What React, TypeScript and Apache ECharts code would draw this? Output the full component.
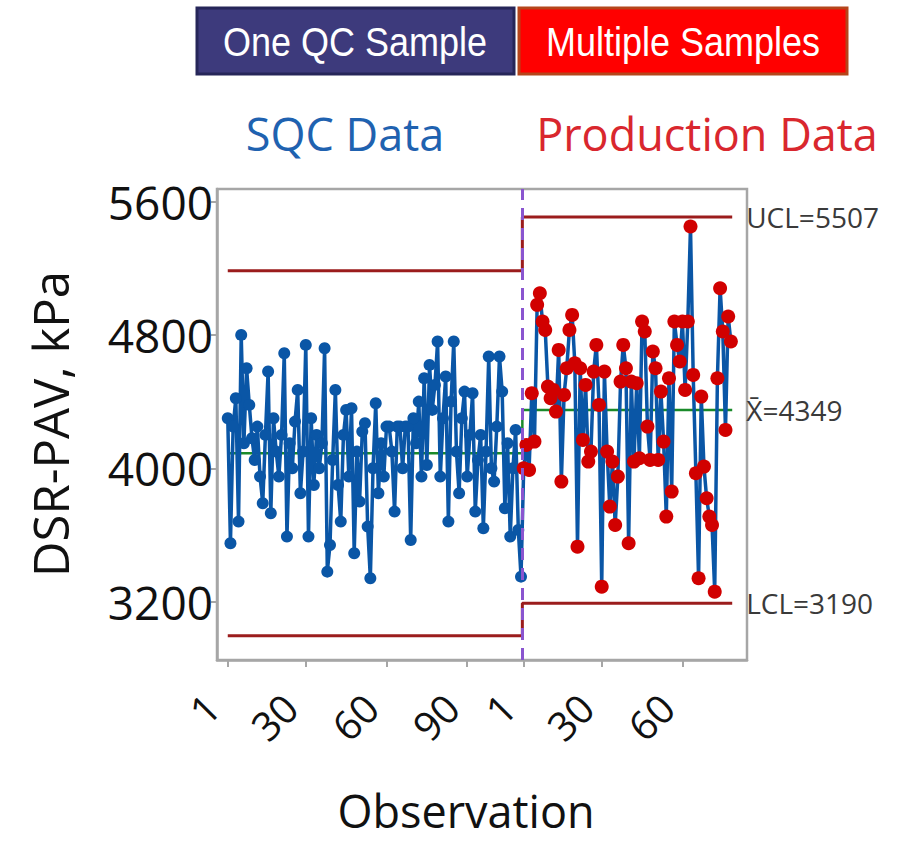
import React, { useEffect, useRef } from "react";
import * as echarts from "echarts";

// ---- data ----
const sqcValues = [
  4300, 3550, 4250, 4420, 3680, 4800, 4150, 4600, 4380, 4180,
  4050, 4250, 3950, 3790, 4200, 4580, 3730, 4300, 4100, 3950,
  4200, 4690, 3590, 4150, 4000, 4280, 4470, 3850, 4100, 4740,
  3590, 4300, 3900, 4200, 4000, 4150, 4720, 3380, 3540, 4050,
  4470, 3900, 3680, 4200, 4350, 3950, 4360, 3490, 4100, 3800,
  4220, 4270, 3650, 3340, 4000, 4390, 3850, 4150, 3950, 4250,
  4250, 4100, 3740, 4250, 4250, 4000, 4250, 4250, 3570, 4300,
  4150, 4400, 3950, 4540, 4020, 4620, 4350, 4500, 4760, 3950,
  4300, 4550, 3680, 4400, 4760, 4100, 3850, 4300, 4460, 3950,
  4200, 4450, 3740, 4050, 4200, 3640, 4100, 4670, 4000, 3920,
  4250, 4670, 4460, 3760, 4150, 3590, 4000, 4230, 3630, 3350,
];

const prodValues = [
  4000, 4140, 3990, 4450, 4160, 4980, 5050, 4880, 4830, 4490,
  4420, 4470, 4340, 4710, 3920, 4440, 4600, 4830, 4920, 4630,
  3530, 4600, 4170, 4500, 4040, 4100, 4580, 4740, 4380, 3290,
  4580, 4100, 3770, 4040, 3660, 3950, 4520, 4740, 4600, 3550,
  4520, 4040, 4510, 4060, 4880, 4820, 4250, 4050, 4700, 4600,
  4050, 4460, 4160, 3710, 4540, 3860, 4880, 4740, 4640, 4880,
  4470, 4880, 5450, 4560, 3970, 3340, 4430, 4010, 3820, 3710,
  3660, 3260, 4540, 5080, 4820, 4230, 4910, 4760,
];

const stage1Limits = [5185, 4090, 2995]; // UCL, mean, LCL
const stage2Limits = [5507, 4349, 3190];
const limitNames = ["UCL", "X\u0304", "LCL"];

const xTickValues = [1, 30, 60, 90, 111, 140, 170];
const xTickLabels = ["1", "30", "60", "90", "1", "30", "60"];
const yTickValues = [3200, 4000, 4800, 5600];

const FONT = "'Open Sans', 'Noto Sans', sans-serif";

export default function App() {
  const ref = useRef<HTMLDivElement>(null);

  useEffect(() => {
    if (!ref.current) return;
    const chart = echarts.init(ref.current, null, { renderer: "svg" });

    const n1 = sqcValues.length;
    const n2 = prodValues.length;
    const divider = n1 + 0.5;
    const lastX = n1 + n2 + 0.5;

    const sqcData = sqcValues.map((v, i) => [i + 1, v]);
    const prodData = prodValues.map((v, i) => [n1 + 1 + i, v]);
    const allData = sqcData.concat(prodData);

    const limitColors = ["#9b1c1c", "#1a8a2a", "#9b1c1c"];
    const limitWidths = [3, 2.5, 3];

    const limitSeries = limitNames.map((name, k) => ({
      type: "line",
      data: [
        [1, stage1Limits[k]],
        [divider, stage1Limits[k]],
        [divider, stage2Limits[k]],
        [lastX, stage2Limits[k]],
      ],
      symbol: "none",
      silent: true,
      lineStyle: { color: limitColors[k], width: limitWidths[k] },
      endLabel: {
        show: true,
        formatter: `${name}=${stage2Limits[k]}`,
        color: "#3a3a3a",
        fontSize: 28,
        fontFamily: FONT,
        distance: 14,
      },
      z: 1,
    }));

    const labelMap: Record<number, string> = {};
    xTickValues.forEach((v, i) => (labelMap[v] = xTickLabels[i]));

    chart.setOption({
      animation: false,
      grid: {
        left: 217,
        right: 161,
        top: 189,
        bottom: 182,
        show: true,
        borderColor: "#a6a6a6",
        borderWidth: 2.5,
        backgroundColor: "transparent",
      },
      xAxis: {
        type: "value",
        min: -3,
        max: 194,
        splitLine: { show: false },
        axisLine: { show: true, onZero: false, lineStyle: { color: "#a6a6a6", width: 2.5 } },
        axisTick: {
          show: true,
          length: 7,
          customValues: xTickValues,
          lineStyle: { color: "#a6a6a6", width: 2 },
        },
        axisLabel: {
          customValues: xTickValues,
          rotate: 45,
          margin: 25,
          padding: [0, 22, 0, 0],
          fontSize: 40,
          color: "#111",
          fontFamily: FONT,
          formatter: (v: number) => labelMap[v] ?? "",
        },
      },
      yAxis: {
        type: "value",
        min: 2850,
        max: 5675,
        splitLine: { show: false },
        axisLine: { show: true, onZero: false, lineStyle: { color: "#a6a6a6", width: 2.5 } },
        axisTick: {
          show: true,
          length: 6,
          customValues: yTickValues,
          lineStyle: { color: "#a6a6a6", width: 2 },
        },
        axisLabel: {
          customValues: yTickValues,
          margin: 4,
          fontSize: 46,
          color: "#111",
          fontFamily: FONT,
          formatter: (v: number) => String(v),
        },
      },
      series: [
        ...limitSeries,
        {
          type: "line",
          data: allData,
          symbol: "none",
          silent: true,
          lineStyle: { color: "#0a56a6", width: 3.5 },
          markLine: {
            silent: true,
            symbol: "none",
            label: { show: false },
            lineStyle: { color: "#8a55cf", width: 3, type: [12, 8] },
            data: [{ xAxis: divider }],
          },
          z: 2,
        },
        {
          type: "scatter",
          data: sqcData,
          symbol: "circle",
          symbolSize: 12,
          itemStyle: { color: "#0a56a6", opacity: 1 },
          silent: true,
          z: 3,
        },
        {
          type: "scatter",
          data: prodData,
          symbol: "circle",
          symbolSize: 14,
          itemStyle: { color: "#d10000", opacity: 1 },
          silent: true,
          z: 4,
        },
      ],
      graphic: [
        {
          type: "rect",
          shape: { x: 197, y: 8, width: 317, height: 66 },
          style: { fill: "#3d3a7c", stroke: "#262659", lineWidth: 3 },
        },
        {
          type: "text",
          x: 355,
          y: 42,
          scaleY: 1.15,
          style: {
            text: "One QC Sample",
            fill: "#ffffff",
            fontSize: 36,
            fontFamily: "'Liberation Sans', Arial, sans-serif",
            align: "center",
            verticalAlign: "middle",
          },
        },
        {
          type: "rect",
          shape: { x: 519, y: 8, width: 328, height: 66 },
          style: { fill: "#ff0000", stroke: "#b5451b", lineWidth: 3 },
        },
        {
          type: "text",
          x: 683,
          y: 42,
          scaleY: 1.15,
          style: {
            text: "Multiple Samples",
            fill: "#ffffff",
            fontSize: 36,
            fontFamily: "'Liberation Sans', Arial, sans-serif",
            align: "center",
            verticalAlign: "middle",
          },
        },
        {
          type: "text",
          x: 345,
          y: 133,
          style: {
            text: "SQC Data",
            fill: "#1f62b0",
            fontSize: 45,
            fontFamily: FONT,
            align: "center",
            verticalAlign: "middle",
          },
        },
        {
          type: "text",
          x: 707,
          y: 133,
          style: {
            text: "Production Data",
            fill: "#d9272e",
            fontSize: 45,
            fontFamily: FONT,
            align: "center",
            verticalAlign: "middle",
          },
        },
        {
          type: "text",
          x: 50,
          y: 424,
          rotation: Math.PI / 2,
          style: {
            text: "DSR-PAV, kPa",
            fill: "#111",
            fontSize: 49,
            fontFamily: FONT,
            align: "center",
            verticalAlign: "middle",
          },
        },
        {
          type: "text",
          x: 466,
          y: 810,
          style: {
            text: "Observation",
            fill: "#111",
            fontSize: 45,
            fontFamily: FONT,
            align: "center",
            verticalAlign: "middle",
          },
        },
      ],
    });

    return () => chart.dispose();
  }, []);

  return (
    <div
      ref={ref}
      style={{ position: "fixed", left: 0, top: 0, width: 908, height: 842, background: "#fff" }}
    />
  );
}
